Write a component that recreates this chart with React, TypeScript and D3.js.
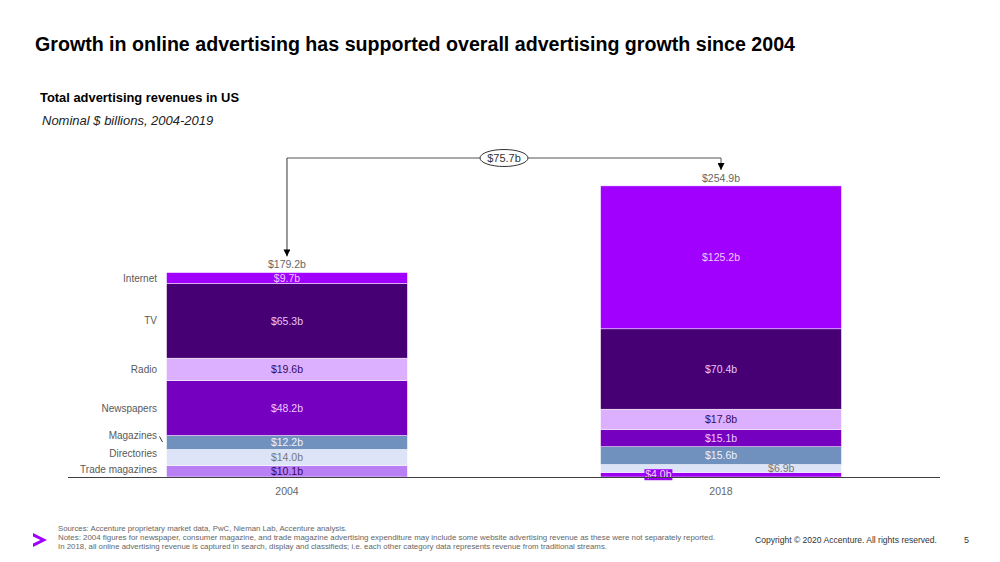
import React from "react"
import * as d3 from "d3"

const years = ["2004", "2018"]
const series = ["Trade magazines", "Directories", "Magazines", "Newspapers", "Radio", "TV", "Internet"]
const values2004 = [10.1, 14.0, 12.2, 48.2, 19.6, 65.3, 9.7]
const values2018 = [4.0, 6.9, 15.6, 15.1, 17.8, 70.4, 125.2]
const totals = [179.2, 254.9]
const growthLabel = "$75.7b"

const fills: Record<string, string> = {
  "Trade magazines": "#b97ff4",
  Directories: "#dde4f8",
  Magazines: "#7090bd",
  Newspapers: "#7500c0",
  Radio: "#dcb0ff",
  TV: "#460073",
  Internet: "#a100ff",
}
const labelFills: Record<string, string> = {
  "Trade magazines": "#3a0a5e",
  Directories: "#777777",
  Magazines: "#eef2ff",
  Newspapers: "#ecc8ff",
  Radio: "#3a0a5e",
  TV: "#e6c6ff",
  Internet: "#f2c8ff",
}

const footnotes = [
  "Sources:  Accenture  proprietary  market  data,  PwC,  Nieman  Lab,  Accenture  analysis.",
  "Notes: 2004 figures  for newspaper,  consumer  magazine,  and trade magazine  advertising  expenditure  may include  some website  advertising  revenue  as these  were not separately  reported.",
  "In 2018, all online  advertising  revenue  is captured  in search,  display and classifieds;  i.e. each other category data represents  revenue  from traditional  streams.",
]

const font = "Arial, 'Liberation Sans', sans-serif"

export default function App() {
  const rows = years.map((year, i) => {
    const vals = i === 0 ? values2004 : values2018
    const row: Record<string, any> = { year }
    series.forEach((s, j) => (row[s] = vals[j]))
    return row
  })
  const stacked = d3.stack<Record<string, any>>().keys(series)(rows)

  const x = d3.scaleBand().domain(years).range([68, 940]).paddingInner(0.445).paddingOuter(0.227)
  const y = d3.scaleLinear().domain([0, 254.9]).range([477, 186])
  const bw = x.bandwidth()
  const cx = (yr: string) => (x(yr) || 0) + bw / 2

  const lineY = y(totals[1]) - 28
  const x0 = cx(years[0])
  const x1 = cx(years[1])
  const tip0 = y(totals[0]) - 16
  const tip1 = y(totals[1]) - 16

  // left-side category labels, nudged where the segments get thin
  const nudge: Record<string, number> = { Magazines: -7, Directories: -4, "Trade magazines": -2 }

  return (
    <svg width={1000} height={562} style={{ position: "absolute", left: 0, top: 0, background: "#fff" }} fontFamily={font}>
      <defs>
        <marker id="ah" viewBox="0 0 10 10" refX="10" refY="5" markerWidth="7" markerHeight="7" orient="auto">
          <path d="M0,0 L10,5 L0,10 z" fill="#000" />
        </marker>
      </defs>

      <text x={35} y={51} fontSize={20} fontWeight="bold" fill="#000" textLength={760} lengthAdjust="spacingAndGlyphs">
        Growth in online advertising has supported overall advertising growth since 2004
      </text>
      <text x={40} y={102} fontSize={12} fontWeight="bold" fill="#000" textLength={199} lengthAdjust="spacingAndGlyphs">
        Total advertising revenues in US
      </text>
      <text x={42} y={125} fontSize={13} fontStyle="italic" fill="#222">
        Nominal $ billions, 2004-2019
      </text>

      {stacked.map((layer) =>
        layer.map((d, i) => {
          const yr = years[i]
          const key = layer.key
          let fill = fills[key]
          if (i === 1 && key === "Trade magazines") fill = "#9b00f0"
          return (
            <rect
              key={key + yr}
              x={x(yr)}
              y={y(d[1])}
              width={bw}
              height={y(d[0]) - y(d[1])}
              fill={fill}
              stroke="#fff"
              strokeWidth={0.5}
            />
          )
        })
      )}

      {stacked.map((layer) =>
        layer.map((d, i) => {
          const yr = years[i]
          const key = layer.key
          const v = d[1] - d[0]
          const label = `$${v.toFixed(1)}b`
          const my = (y(d[0]) + y(d[1])) / 2
          if (i === 1 && v < 8) {
            const left = key === "Trade magazines"
            const lx = cx(yr) + (left ? -0.26 : 0.25) * bw
            const ly = left ? my : my
            const h = left ? 11 : 9
            return (
              <g key={"l" + key + yr}>
                <rect x={lx - 14} y={ly - h / 2} width={28} height={h} fill={left ? "#9b00f0" : "#dde4f8"} />
                <text x={lx} y={ly} dy="0.35em" textAnchor="middle" fontSize={10.5} fill={left ? "#f4d8ff" : "#777"}>
                  {label}
                </text>
              </g>
            )
          }
          return (
            <text key={"l" + key + yr} x={cx(yr)} y={my} dy="0.35em" textAnchor="middle" fontSize={10.5} fill={labelFills[key]}>
              {label}
            </text>
          )
        })
      )}

      {stacked.map((layer) => {
        const d = layer[0]
        const my = (y(d[0]) + y(d[1])) / 2 + (nudge[layer.key] || 0)
        return (
          <text key={"s" + layer.key} x={157} y={my} dy="0.35em" textAnchor="end" fontSize={10} fill="#595959">
            {layer.key}
          </text>
        )
      })}
      <line x1={159.5} y1={436.5} x2={162.5} y2={442} stroke="#333" strokeWidth={1} />

      {years.map((yr, i) => (
        <text key={"t" + yr} x={cx(yr)} y={y(totals[i]) - 4.5} textAnchor="middle" fontSize={10.5} fill="#666">
          {`$${totals[i].toFixed(1)}b`}
        </text>
      ))}

      <line x1={68} x2={940} y1={y(0) + 0.5} y2={y(0) + 0.5} stroke="#404040" strokeWidth={1} />
      {years.map((yr) => (
        <text key={"x" + yr} x={cx(yr)} y={495} textAnchor="middle" fontSize={10.5} fill="#666">
          {yr}
        </text>
      ))}

      <path d={`M${x0},${lineY} L${x0},${tip0}`} stroke="#333" strokeWidth={1} fill="none" markerEnd="url(#ah)" />
      <path d={`M${x0},${lineY} L${x1},${lineY} L${x1},${tip1}`} stroke="#555" strokeWidth={1} fill="none" markerEnd="url(#ah)" />
      <ellipse cx={(x0 + x1) / 2} cy={lineY} rx={24} ry={8.5} fill="#fff" stroke="#333" strokeWidth={1} />
      <text x={(x0 + x1) / 2} y={lineY} dy="0.35em" textAnchor="middle" fontSize={11} fill="#333">
        {growthLabel}
      </text>

      <path d="M33,533 L47,540 L33,547 L33,543.5 L40.5,540 L33,536.5 Z" fill="#a100ff" />
      {footnotes.map((t, i) => (
        <text
          key={"f" + i}
          x={58}
          y={531 + i * 9}
          fontSize={6.6}
          fill="#666"
          textLength={[289, 657, 549][i]}
          lengthAdjust="spacingAndGlyphs"
        >
          {t}
        </text>
      ))}
      <text x={755} y={543} fontSize={9} fill="#333" textLength={182} lengthAdjust="spacingAndGlyphs">
        Copyright © 2020 Accenture. All rights reserved.
      </text>
      <text x={964} y={543} fontSize={9} fill="#333">
        5
      </text>
    </svg>
  )
}
